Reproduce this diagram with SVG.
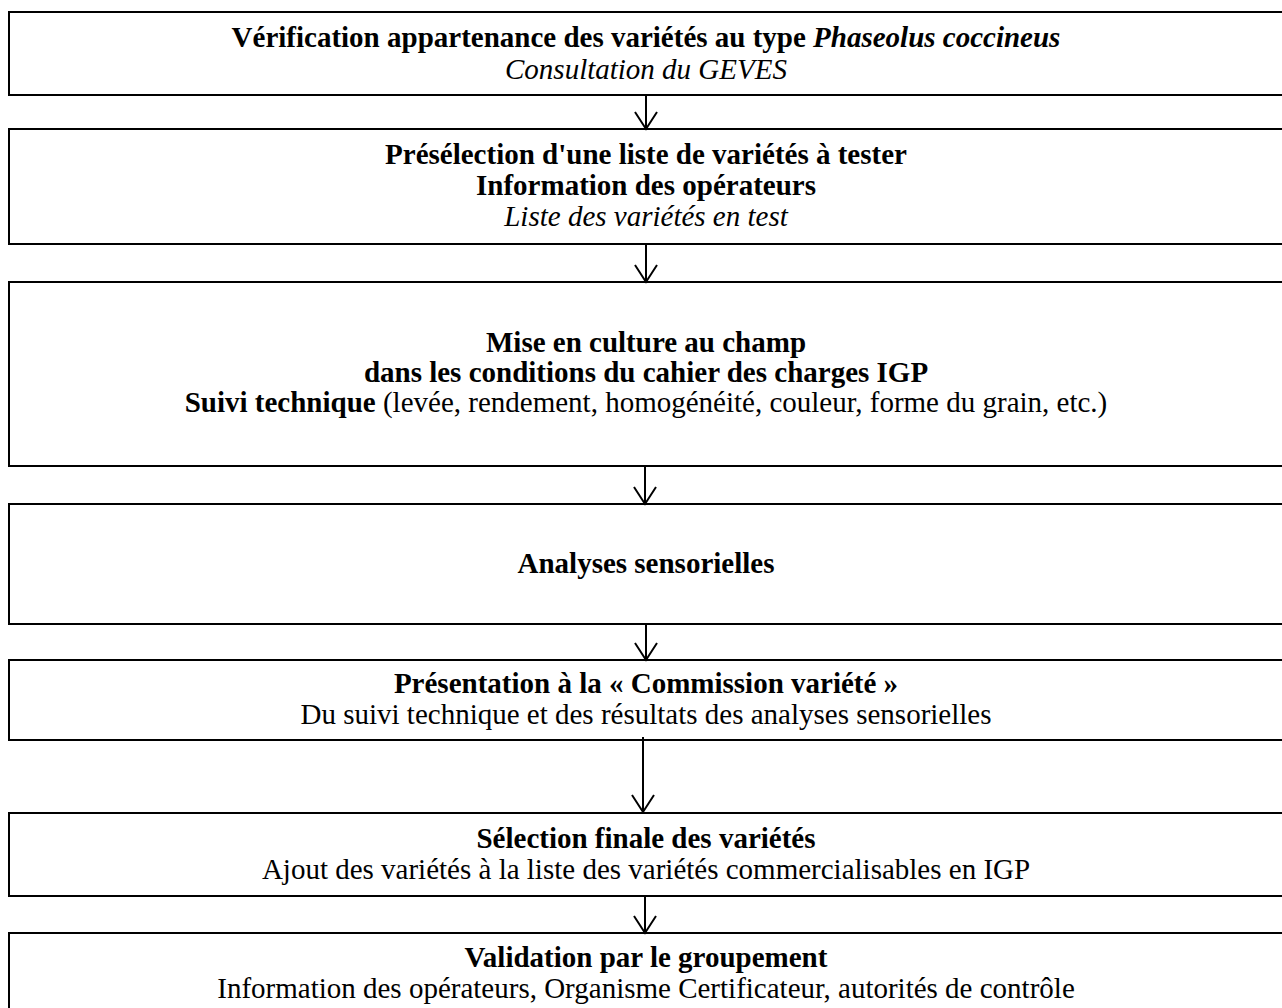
<svg xmlns="http://www.w3.org/2000/svg" width="1282" height="1008" viewBox="0 0 1282 1008">
<defs>
<style>
.box{fill:#fff;stroke:#000;stroke-width:2}
text{font-family:"Liberation Serif","Times New Roman",serif;font-size:29px;fill:#000;text-anchor:middle}
.b{font-weight:bold}
.i{font-style:italic}
.conn line{stroke:#000;stroke-width:2}
.conn path{fill:none;stroke:#000;stroke-width:2}
</style>
</defs>
<rect width="1282" height="1008" fill="#fff"/>
<g id="n1"><rect class="box" x="9" y="12" width="1300" height="83"/>
<text x="646" y="47"><tspan class="b">Vérification appartenance des variétés au type </tspan><tspan class="b i">Phaseolus coccineus</tspan></text>
<text x="646" y="79" class="i">Consultation du GEVES</text></g>
<g id="n2"><rect class="box" x="9" y="129" width="1300" height="115"/>
<text x="646" y="164" class="b">Présélection d'une liste de variétés à tester</text>
<text x="646" y="195" class="b">Information des opérateurs</text>
<text x="646" y="226" class="i">Liste des variétés en test</text></g>
<g id="n3"><rect class="box" x="9" y="282" width="1300" height="184"/>
<text x="646" y="352" class="b">Mise en culture au champ</text>
<text x="646" y="382" class="b">dans les conditions du cahier des charges IGP</text>
<text x="646" y="412"><tspan class="b">Suivi technique</tspan> (levée, rendement, homogénéité, couleur, forme du grain, etc.)</text></g>
<g id="n4"><rect class="box" x="9" y="504" width="1300" height="120"/>
<text x="646" y="573" class="b">Analyses sensorielles</text></g>
<g id="n5"><rect class="box" x="9" y="660" width="1300" height="80"/>
<text x="646" y="693" class="b">Présentation à la « Commission variété »</text>
<text x="646" y="724">Du suivi technique et des résultats des analyses sensorielles</text></g>
<g id="n6"><rect class="box" x="9" y="813" width="1300" height="83"/>
<text x="646" y="848" class="b">Sélection finale des variétés</text>
<text x="646" y="879">Ajout des variétés à la liste des variétés commercialisables en IGP</text></g>
<g id="n7"><rect class="box" x="9" y="933" width="1300" height="100"/>
<text x="646" y="967" class="b">Validation par le groupement</text>
<text x="646" y="998">Information des opérateurs, Organisme Certificateur, autorités de contrôle</text></g>
<g id="connectors" class="conn">
<line x1="646" y1="94" x2="646" y2="128"/><path d="M635,112 L646,129 L657,112"/>
<line x1="646" y1="244" x2="646" y2="281"/><path d="M635,265 L646,282 L657,265"/>
<line x1="645" y1="466" x2="645" y2="503"/><path d="M634,487 L645,504 L656,487"/>
<line x1="646" y1="624" x2="646" y2="659"/><path d="M635,643 L646,660 L657,643"/>
<line x1="643" y1="737" x2="643" y2="811"/><path d="M632,795 L643,812 L654,795"/>
<line x1="645" y1="896" x2="645" y2="932"/><path d="M634,916 L645,933 L656,916"/>
</g>
</svg>
